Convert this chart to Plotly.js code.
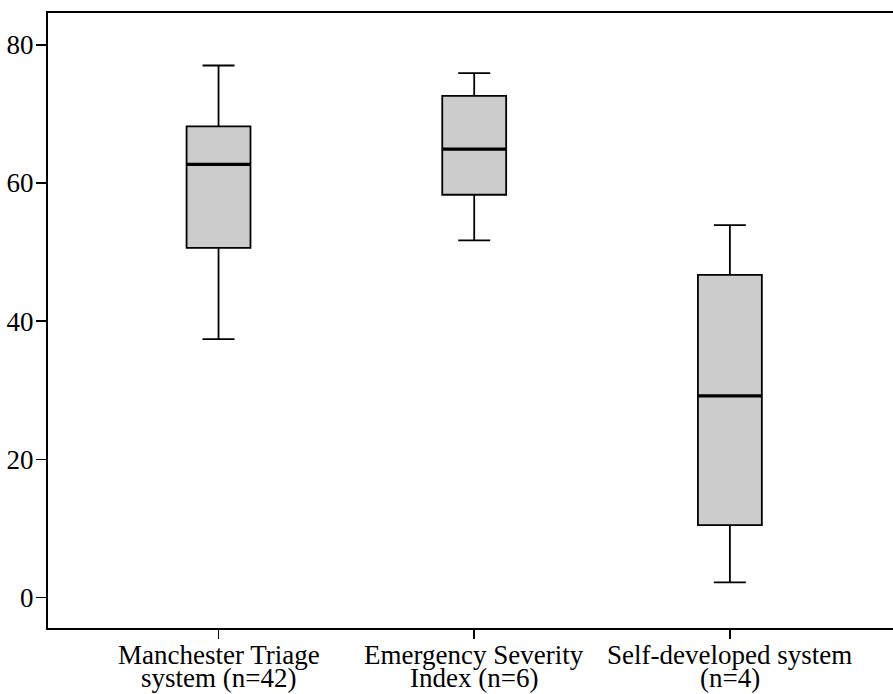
<!DOCTYPE html>
<html>
<head>
<meta charset="utf-8">
<script src="https://cdn.plot.ly/plotly-3.0.1.min.js"></script>
<style>html,body{margin:0;padding:0;background:#fff;}</style>
</head>
<body>
<div id="chart" style="width:893px;height:694px;"></div>
<script>
// Data
const categories = ["MTS", "ESI", "Self"];
const labelLine1 = ["Manchester Triage", "Emergency Severity", "Self-developed system"];
const labelLine2 = ["system (n=42)", "Index (n=6)", "(n=4)"];
const lowerWhisker = [37.4, 51.7, 2.2];
const q1Values = [50.6, 58.3, 10.5];
const medianValues = [62.7, 64.9, 29.2];
const q3Values = [68.2, 72.6, 46.7];
const upperWhisker = [77.0, 75.9, 53.9];
const yTickValues = [0, 20, 40, 60, 80];

const FONT = "Liberation Serif";

const boxTrace = {
  type: "box",
  x: categories,
  q1: q1Values,
  median: medianValues,
  q3: q3Values,
  lowerfence: lowerWhisker,
  upperfence: upperWhisker,
  width: 0.25,
  whiskerwidth: 0.5,
  fillcolor: "#cccccc",
  line: {color: "#000000", width: 1.8},
  boxpoints: false,
  hoverinfo: "skip",
  showlegend: false
};

// thicker median line drawn as a zero-height box at the median values
const medianTrace = {
  type: "box",
  x: categories,
  q1: medianValues,
  median: medianValues,
  q3: medianValues,
  lowerfence: medianValues,
  upperfence: medianValues,
  width: 0.25,
  whiskerwidth: 0,
  fillcolor: "rgba(0,0,0,0)",
  line: {color: "#000000", width: 3.2},
  boxpoints: false,
  hoverinfo: "skip",
  showlegend: false
};

const annotations = [];
categories.forEach((c, i) => {
  annotations.push({
    x: c, xref: "x", y: 0, yref: "paper",
    text: labelLine1[i], showarrow: false,
    yanchor: "middle", xanchor: "center", yshift: -27,
    font: {family: FONT, size: 27, color: "#000"}
  });
  annotations.push({
    x: c, xref: "x", y: 0, yref: "paper",
    text: labelLine2[i], showarrow: false,
    yanchor: "middle", xanchor: "center", yshift: -50,
    font: {family: FONT, size: 27, color: "#000"}
  });
});

const layout = {
  width: 893,
  height: 694,
  margin: {l: 48, r: 0, t: 13, b: 66},
  paper_bgcolor: "#ffffff",
  plot_bgcolor: "#ffffff",
  font: {family: FONT, size: 27, color: "#000"},
  boxmode: "overlay",
  showlegend: false,
  xaxis: {
    type: "category",
    range: [-0.667, 2.638],
    showline: true, linecolor: "#000", linewidth: 2, mirror: true,
    ticks: "outside", ticklen: 9, tickwidth: 1.5, tickcolor: "#000",
    showticklabels: false,
    showgrid: false, zeroline: false
  },
  yaxis: {
    range: [-4.4, 84.6],
    tickvals: yTickValues,
    ticktext: yTickValues.map(String),
    showline: true, linecolor: "#000", linewidth: 2, mirror: false,
    ticks: "outside", ticklen: 10, tickwidth: 1.5, tickcolor: "#000",
    tickfont: {family: FONT, size: 27, color: "#000"},
    ticklabelstandoff: -3,
    showgrid: false, zeroline: false
  },
  annotations: annotations
};

Plotly.newPlot("chart", [boxTrace, medianTrace], layout, {staticPlot: true, displayModeBar: false});
</script>
</body>
</html>
